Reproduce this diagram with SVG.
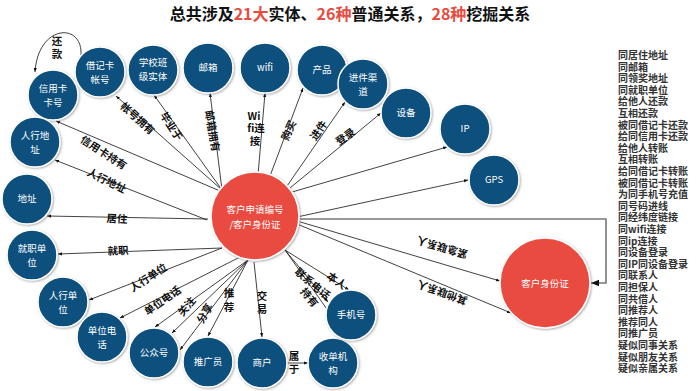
<svg xmlns="http://www.w3.org/2000/svg" width="700" height="391" viewBox="0 0 700 391">
<defs>
<filter id="sh" x="-20%" y="-20%" width="140%" height="140%"><feDropShadow dx="1" dy="1" stdDeviation="1" flood-color="#777" flood-opacity="0.6"/></filter>
<marker id="ar" viewBox="0 0 10 10" refX="10" refY="5" markerWidth="5" markerHeight="5" orient="auto-start-reverse"><path d="M0,1 L10,5 L0,9 z" fill="#111"/></marker>
<marker id="arg" viewBox="0 0 10 10" refX="10" refY="5" markerWidth="5" markerHeight="5" orient="auto"><path d="M0,1 L10,5 L0,9 z" fill="#111"/></marker>
<style>
.n circle{fill:#0b4f7d;stroke:#fff;stroke-width:1.5;filter:url(#sh)}
.r circle{fill:#e94b3f;stroke:#fff;stroke-width:1.5;filter:url(#sh)}
.n text,.r text{fill:#fff;font-family:"Noto Sans CJK SC","Noto Sans",sans-serif;font-size:9.5px;text-anchor:middle}
.e line,.e path{stroke:#111;stroke-width:0.8;fill:none;marker-end:url(#ar)}
.lb{font-family:"Noto Sans CJK SC",sans-serif;font-size:10.5px;font-weight:bold;fill:#111;text-anchor:middle;dominant-baseline:central}
.lst{font-family:"Noto Sans CJK SC",sans-serif;font-size:10px;font-weight:bold;fill:#333}
.ttl{font-family:"Noto Sans CJK SC",sans-serif;font-size:16px;font-weight:bold;fill:#111;text-anchor:middle}
.red{fill:#e94b3f}
</style>
</defs>
<rect width="700" height="391" fill="#fff"/>
<text class="ttl" x="350" y="20">总共涉及<tspan class="red">21大</tspan>实体、<tspan class="red">26种</tspan>普通关系，<tspan class="red">28种</tspan>挖掘关系</text>

<g id="edges" class="e">
<path d="M81,55 C83,22 38,24 35,72"/>
<line x1="220" y1="191" x2="56" y2="121"/>
<line x1="207" y1="220" x2="55" y2="160"/>
<line x1="208" y1="219" x2="47" y2="216"/>
<line x1="222" y1="248" x2="58" y2="254"/>
<line x1="222" y1="248" x2="89" y2="300"/>
<line x1="240" y1="257" x2="120" y2="318"/>
<line x1="248" y1="260" x2="155" y2="327"/>
<line x1="248" y1="260" x2="172" y2="333"/>
<line x1="248" y1="260" x2="180" y2="350"/>
<line x1="248" y1="260" x2="208" y2="336"/>
<line x1="254" y1="262" x2="262" y2="337"/>
<line x1="285" y1="250" x2="349" y2="290"/>
<line x1="285" y1="250" x2="328" y2="302"/>
<line x1="285" y1="250" x2="329" y2="312"/>
<line x1="287" y1="363" x2="308" y2="363"/>
<line x1="222" y1="190" x2="116" y2="96"/>
<line x1="222" y1="190" x2="154" y2="95"/>
<line x1="222" y1="190" x2="210" y2="93"/>
<line x1="258" y1="175" x2="265" y2="93"/>
<line x1="270" y1="176" x2="303" y2="88"/>
<line x1="287" y1="186" x2="345" y2="102"/>
<line x1="290" y1="188" x2="381" y2="113"/>
<line x1="292" y1="192" x2="447" y2="147"/>
<line x1="297" y1="217" x2="468" y2="180"/>
<line x1="297" y1="221" x2="500" y2="281"/>
<line x1="297" y1="224" x2="511" y2="313"/>
<path d="M299,219 H606 V283 H591" style="stroke:#777;stroke-width:1.6"/>
</g>

<g id="labels">
<text class="lb" x="57" y="40">还</text>
<text class="lb" x="57" y="53">款</text>
<text class="lb" transform="translate(104,152) rotate(33)">信用卡持有</text>
<text class="lb" transform="translate(107,180) rotate(26)">人行地址</text>
<text class="lb" transform="translate(117,218) rotate(3)">居住</text>
<text class="lb" transform="translate(118,250) rotate(-3)">就职</text>
<text class="lb" transform="translate(148,277) rotate(-33)">人行单位</text>
<text class="lb" transform="translate(162,300) rotate(-35)">单位电话</text>
<text class="lb" transform="translate(186,306) rotate(-50)">关注</text>
<text class="lb" transform="translate(204,313) rotate(-60)">分享</text>
<text class="lb" x="229" y="292">推</text>
<text class="lb" x="229" y="306">荐</text>
<text class="lb" x="262" y="295">交</text>
<text class="lb" x="262" y="308">易</text>
<text class="lb" x="294" y="355">属</text>
<text class="lb" x="294" y="368">于</text>
<text class="lb" transform="translate(337,280) rotate(35)">本人</text>
<text class="lb" transform="translate(313,283) rotate(40)">联系电话</text>
<text class="lb" transform="translate(310,297) rotate(50)">持有</text>
<text class="lb" transform="translate(138,118) rotate(42)">帐号拥有</text>
<text class="lb" transform="translate(172,126) rotate(57)">毕业于</text>
<text class="lb" transform="translate(213,131) rotate(80)">邮箱拥有</text>
<text class="lb" x="254" y="115">Wi</text>
<text class="lb" x="256" y="127">fi连</text>
<text class="lb" x="255" y="140">接</text>
<text class="lb" transform="translate(288,130) rotate(-65)">购买</text>
<text class="lb" transform="translate(318,130) rotate(-55)">进件</text>
<text class="lb" transform="translate(345,136) rotate(-35)">登录</text>
<text class="lb" transform="translate(442,248) rotate(197)">紧急联系人</text>
<text class="lb" transform="translate(442,293) rotate(200)">其他联系人</text>
</g>

<g id="n-center" class="r"><circle cx="255" cy="216" r="44"/><text><tspan x="255" y="213">客户申请编号</tspan><tspan x="255" y="228">/客户身份证</tspan></text></g>
<g id="n-idcard" class="r"><circle cx="545" cy="283" r="45"/><text x="545" y="287">客户身份证</text></g>
<g id="n-credit" class="n"><circle cx="53" cy="95" r="25"/><text><tspan x="53" y="92">信用卡</tspan><tspan x="53" y="106">卡号</tspan></text></g>
<g id="n-debit" class="n"><circle cx="100" cy="72" r="25"/><text><tspan x="100" y="69">借记卡</tspan><tspan x="100" y="83">帐号</tspan></text></g>
<g id="n-school" class="n"><circle cx="153" cy="70" r="25"/><text><tspan x="153" y="66">学校班</tspan><tspan x="153" y="80">级实体</tspan></text></g>
<g id="n-email" class="n"><circle cx="208" cy="68" r="25"/><text x="208" y="71">邮箱</text></g>
<g id="n-wifi" class="n"><circle cx="265" cy="68" r="25"/><text x="265" y="71">wifi</text></g>
<g id="n-product" class="n"><circle cx="322" cy="70" r="25"/><text x="322" y="73">产品</text></g>
<g id="n-channel" class="n"><circle cx="363" cy="84" r="25"/><text><tspan x="363" y="81">进件渠</tspan><tspan x="363" y="95">道</tspan></text></g>
<g id="n-device" class="n"><circle cx="406" cy="113" r="25"/><text x="406" y="116">设备</text></g>
<g id="n-ip" class="n"><circle cx="465" cy="129" r="25"/><text x="465" y="132">IP</text></g>
<g id="n-gps" class="n"><circle cx="494" cy="180" r="25"/><text x="494" y="183">GPS</text></g>
<g id="n-pbaddr" class="n"><circle cx="35" cy="142" r="25"/><text><tspan x="35" y="139">人行地</tspan><tspan x="35" y="153">址</tspan></text></g>
<g id="n-addr" class="n"><circle cx="27" cy="199" r="25"/><text x="27" y="202">地址</text></g>
<g id="n-employer" class="n"><circle cx="32" cy="255" r="25"/><text><tspan x="32" y="252">就职单</tspan><tspan x="32" y="266">位</tspan></text></g>
<g id="n-pbunit" class="n"><circle cx="63" cy="302" r="25"/><text><tspan x="63" y="299">人行单</tspan><tspan x="63" y="313">位</tspan></text></g>
<g id="n-unitphone" class="n"><circle cx="102" cy="337" r="25"/><text><tspan x="102" y="334">单位电</tspan><tspan x="102" y="348">话</tspan></text></g>
<g id="n-wechat" class="n"><circle cx="154" cy="353" r="25"/><text x="154" y="356">公众号</text></g>
<g id="n-promoter" class="n"><circle cx="208" cy="362" r="25"/><text x="208" y="365">推广员</text></g>
<g id="n-merchant" class="n"><circle cx="262" cy="363" r="25"/><text x="262" y="366">商户</text></g>
<g id="n-acquirer" class="n"><circle cx="333" cy="363" r="25"/><text><tspan x="333" y="360">收单机</tspan><tspan x="333" y="374">构</tspan></text></g>
<g id="n-mobile" class="n"><circle cx="351" cy="315" r="25"/><text x="351" y="318">手机号</text></g>

<g id="list" class="lst">
<text x="618" y="59">同居住地址</text>
<text x="618" y="70.6">同邮箱</text>
<text x="618" y="82.2">同领奖地址</text>
<text x="618" y="93.8">同就职单位</text>
<text x="618" y="105.4">给他人还款</text>
<text x="618" y="117">互相还款</text>
<text x="618" y="128.6">被同借记卡还款</text>
<text x="618" y="140.2">给同信用卡还款</text>
<text x="618" y="151.8">给他人转账</text>
<text x="618" y="163.4">互相转账</text>
<text x="618" y="175">给同借记卡转账</text>
<text x="618" y="186.6">被同借记卡转账</text>
<text x="618" y="198.2">为同手机号充值</text>
<text x="618" y="209.8">同号码进线</text>
<text x="618" y="221.4">同经纬度链接</text>
<text x="618" y="233">同wifi连接</text>
<text x="618" y="244.6">同ip连接</text>
<text x="618" y="256.2">同设备登录</text>
<text x="618" y="267.8">同IP同设备登录</text>
<text x="618" y="279.4">同联系人</text>
<text x="618" y="291">同担保人</text>
<text x="618" y="302.6">同共借人</text>
<text x="618" y="314.2">同推荐人</text>
<text x="618" y="325.8">推荐同人</text>
<text x="618" y="337.4">同推广员</text>
<text x="618" y="349">疑似同事关系</text>
<text x="618" y="360.6">疑似朋友关系</text>
<text x="618" y="372.2">疑似亲属关系</text>
</g>
</svg>
